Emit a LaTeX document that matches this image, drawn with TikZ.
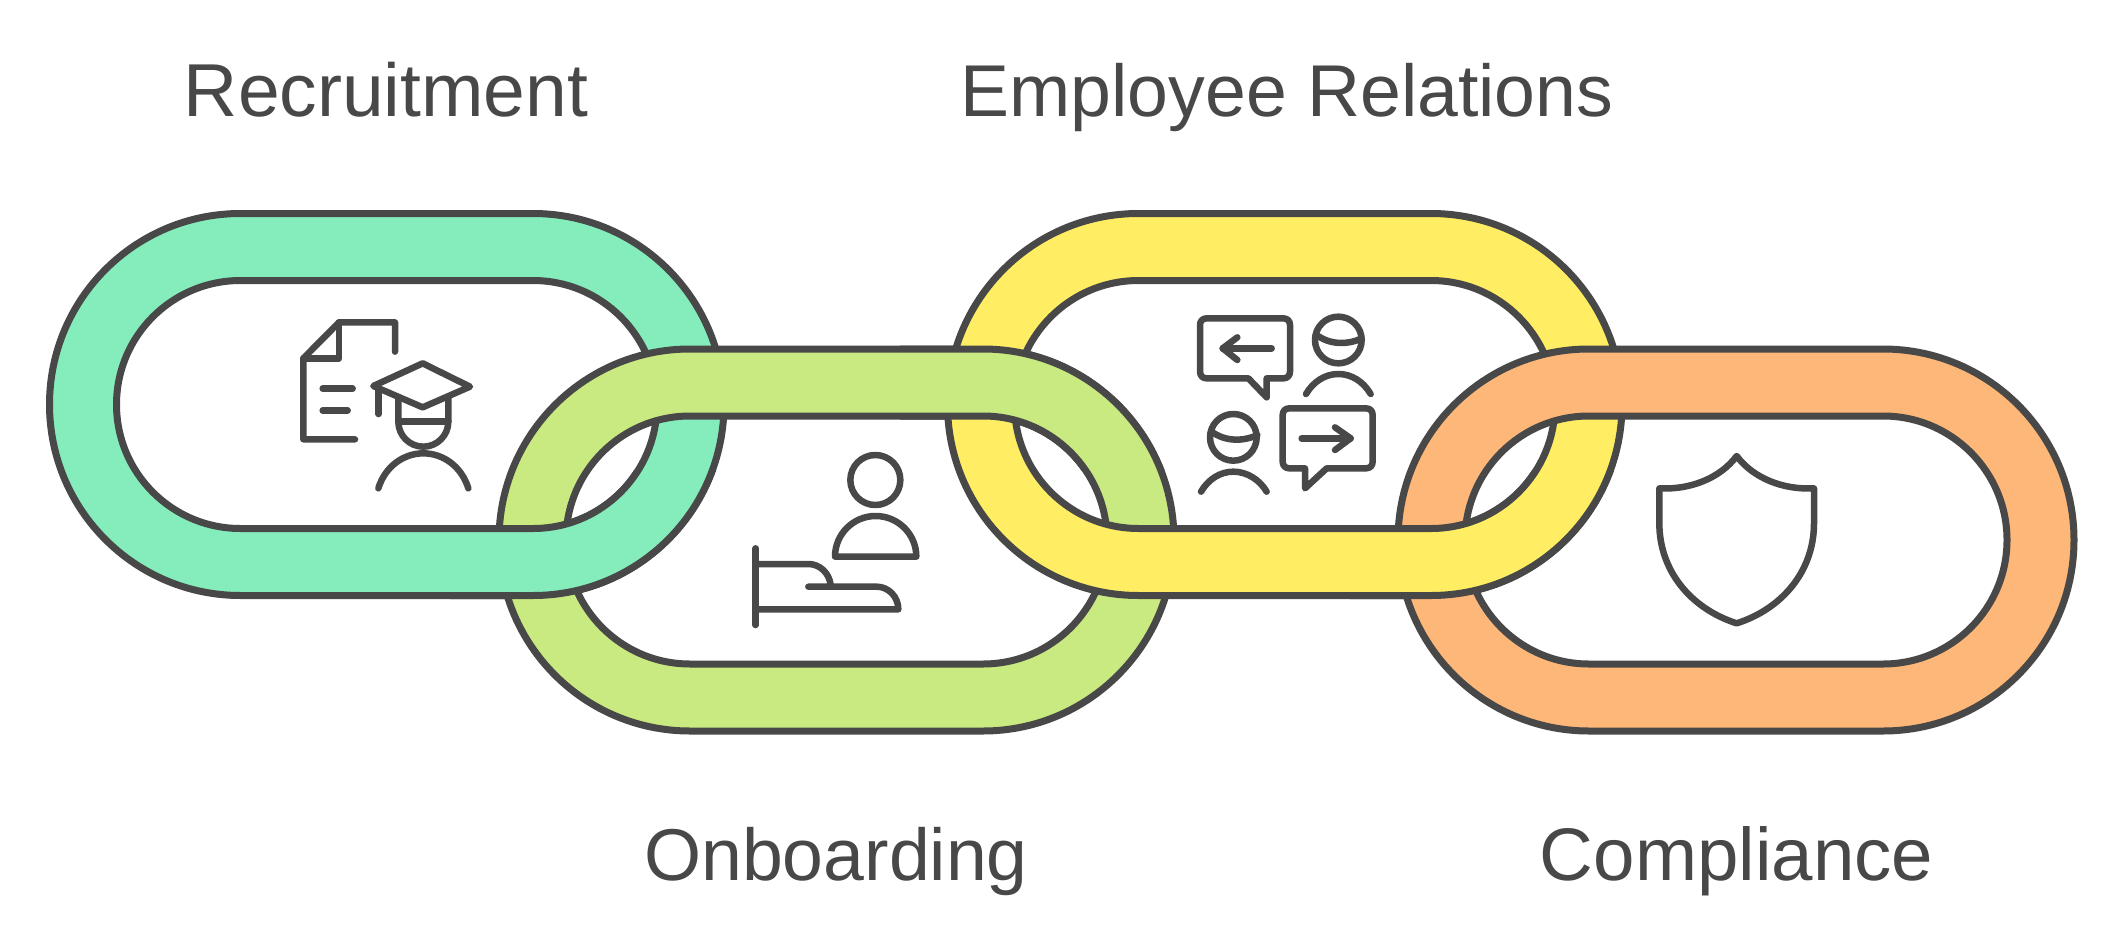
\documentclass[tikz,border=0pt]{standalone}
\usepackage{fontspec}
\setmainfont{Liberation Sans}
\definecolor{ink}{HTML}{484848}
\definecolor{cgreen}{HTML}{85EDBB}
\definecolor{clime}{HTML}{C9EA80}
\definecolor{cyellow}{HTML}{FFEE63}
\definecolor{corange}{HTML}{FDB778}
\tikzset{
  ringline/.style={draw=ink,line width=7pt,line join=round,even odd rule},
  iconline/.style={draw=ink,line width=6.5pt,line cap=round,line join=round},
  ringlabel/.style={font=\fontsize{#1}{76}\selectfont,text=ink,inner sep=0pt,anchor=base},
}
% #1 colour, #2 left centre x, #3 right centre x, #4 centre y
\newcommand{\chainring}[4]{%
  \path[ringline,fill=#1]
    (#2,#4-191) -- (#3,#4-191) arc[start angle=-90,end angle=90,radius=191] -- (#2,#4+191) arc[start angle=90,end angle=270,radius=191] -- cycle
    (#2,#4-124) -- (#3,#4-124) arc[start angle=-90,end angle=90,radius=124] -- (#2,#4+124) arc[start angle=90,end angle=270,radius=124] -- cycle;
}
\begin{document}
\begin{tikzpicture}[x=1pt,y=-1pt]
\useasboundingbox[fill=white] (0,0) rectangle (2123,945);
\chainring{cgreen}{240.5}{533}{404.5}
\chainring{clime}{690}{983}{540}
\chainring{cyellow}{1138.5}{1431}{404.5}
\chainring{corange}{1589}{1883}{540}
\begin{scope}
  \clip (450,470) rectangle (760,610);
  \chainring{cgreen}{240.5}{533}{404.5}
\end{scope}
\begin{scope}
  \clip (900,330) rectangle (1210,470);
  \chainring{clime}{690}{983}{540}
\end{scope}
\begin{scope}
  \clip (1350,470) rectangle (1660,610);
  \chainring{cyellow}{1138.5}{1431}{404.5}
\end{scope}

% Recruitment icon
\begin{scope}[shift={(270,290)},scale=1/3]
  \draw[iconline] (375,185) -- (375,97) -- (207,97) -- (100,205) -- (100,448) -- (255,448);
  \draw[iconline] (207,97) -- (207,205) -- (100,205);
  \draw[iconline] (158,296) -- (248,296);
  \draw[iconline] (158,361) -- (233,361);
  \draw[iconline] (458,220) -- (600,290) -- (458,352) -- (310,288) -- cycle;
  \draw[iconline] (326,295) -- (326,372);
  \draw[iconline] (385,322) -- (385,395) arc[start angle=180,end angle=0,radius=75] -- (535,322);
  \draw[iconline] (385,395) -- (535,395);
  \draw[iconline] (325,595) .. controls (345,530) and (400,490) .. (460,490) .. controls (520,490) and (575,530) .. (595,595);
\end{scope}

% Onboarding icon
\begin{scope}[shift={(720,420)},scale=1/3]
  \draw[iconline] (466,180) circle[radius=75];
  \draw[iconline] (345,410) arc[start angle=180,end angle=360,radius=122] -- cycle;
  \draw[iconline] (107,385) -- (107,615);
  \draw[iconline] (107,432) -- (265,432) .. controls (300,432) and (328,460) .. (332,495);
  \draw[iconline] (265,500) -- (470,500) .. controls (505,500) and (535,530) .. (535,568) -- (107,568);
\end{scope}

% Employee Relations icon
\begin{scope}[shift={(1180,300)},scale=1/3]
  \draw[iconline] (80,55) -- (310,55) .. controls (322,55) and (330,63) .. (330,75) -- (330,215) .. controls (330,227) and (322,235) .. (310,235) -- (260,235) -- (260,292) -- (205,235) -- (80,235) .. controls (68,235) and (60,227) .. (60,215) -- (60,75) .. controls (60,63) and (68,55) .. (80,55) -- cycle;
  \draw[iconline] (275,145) -- (128,145);
  \draw[iconline] (172,112) -- (128,145) -- (172,180);
  \draw[iconline] (475,120) circle[radius=70];
  \draw[iconline] (410,105) .. controls (450,135) and (505,135) .. (545,115);
  \draw[iconline] (378,282) .. controls (400,245) and (435,222) .. (475,222) .. controls (515,222) and (550,245) .. (572,282);
  \draw[iconline] (328,325) -- (558,325) .. controls (570,325) and (578,333) .. (578,345) -- (578,485) .. controls (578,497) and (570,505) .. (558,505) -- (440,505) -- (375,565) -- (375,505) -- (328,505) .. controls (316,505) and (308,497) .. (308,485) -- (308,345) .. controls (308,333) and (316,325) .. (328,325) -- cycle;
  \draw[iconline] (365,415) -- (512,415);
  \draw[iconline] (465,382) -- (512,415) -- (465,450);
  \draw[iconline] (160,412) circle[radius=70];
  \draw[iconline] (95,395) .. controls (135,425) and (190,425) .. (232,405);
  \draw[iconline] (63,575) .. controls (85,538) and (120,515) .. (160,515) .. controls (200,515) and (238,538) .. (260,575);
\end{scope}

% Compliance icon
\begin{scope}[shift={(1640,440)},scale=1/3]
  \draw[iconline] (290,48) .. controls (340,115) and (430,150) .. (522,145) -- (522,250) .. controls (522,390) and (430,505) .. (290,550) .. controls (150,505) and (58,390) .. (58,250) -- (58,145) .. controls (150,150) and (240,115) .. (290,48) -- cycle;
\end{scope}

\node[ringlabel=75] (recruitment) at (386,116) {Recruitment};
\node[ringlabel=73.4] (relations) at (1287,116) {Employee Relations};
\node[ringlabel=73.4] (onboarding) at (836,880) {Onboarding};
\node[ringlabel=74.5] (compliance) at (1736.5,880) {Compliance};
\end{tikzpicture}
\end{document}
